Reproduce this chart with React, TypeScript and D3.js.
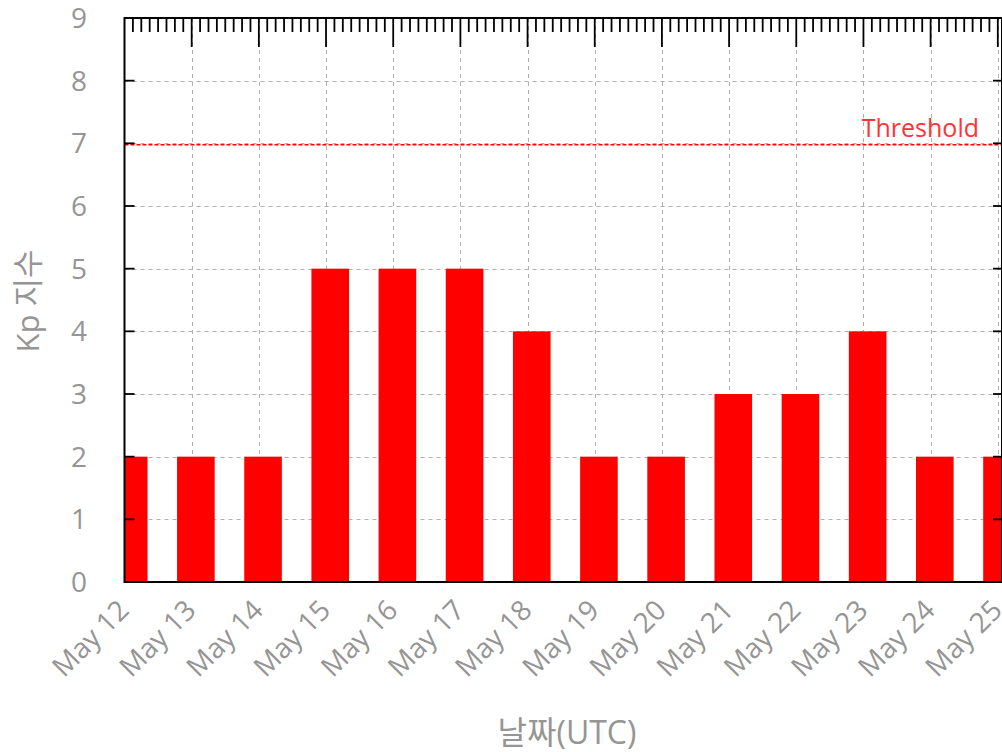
import React from "react";
import * as d3 from "d3";

const dayLabels = ["May 12", "May 13", "May 14", "May 15", "May 16", "May 17", "May 18", "May 19", "May 20", "May 21", "May 22", "May 23", "May 24", "May 25"];
const kpValues = [2, 2, 2, 5, 5, 5, 4, 2, 2, 3, 3, 4, 2, 2];
const yTickValues = [0, 1, 2, 3, 4, 5, 6, 7, 8, 9];
const thresholdValue = 7;
const thresholdLabel = "Threshold";
const xTitle = "날짜(UTC)";
const yTitle = "Kp 지수";

const YEAR = 2024;
const dayStart = (i: number) => new Date(Date.UTC(YEAR, 4, 12 + i));
const barTime = (i: number) => new Date(Date.UTC(YEAR, 4, 12 + i, 1, 30));

const W = 1002;
const H = 752;
const L = 124.5;
const R = 1002;
const T = 18;
const B = 582;

const FONT = "'Open Sans', 'Noto Sans CJK KR', sans-serif";
const GRAY = "#959595";

export default function App() {
  const x = d3
    .scaleUtc()
    .domain([dayStart(0), barTime(dayLabels.length - 1)])
    .range([L, R]);
  const y = d3.scaleLinear().domain([0, 9]).range([B, T]);

  const dayMs = 86400000;
  const barW = x(new Date(dayStart(0).getTime() + 0.56 * dayMs)) - x(dayStart(0));

  const majorTicks = dayLabels.map((_, i) => dayStart(i));
  const minorTicks = d3.utcHour
    .every(3)!
    .range(dayStart(0), barTime(dayLabels.length - 1))
    .filter((d) => d.getUTCHours() !== 0);

  return (
    <svg
      width={W}
      height={H}
      style={{ position: "absolute", left: 0, top: 0, background: "#fff" }}
      fontFamily={FONT}
    >
      <defs>
        <clipPath id="plot">
          <rect x={L} y={T} width={R - L} height={B - T} />
        </clipPath>
      </defs>
      <rect x={0} y={0} width={W} height={H} fill="#fff" />

      {/* grid */}
      <g stroke="#b0b0b0" strokeWidth={1} strokeDasharray="4,4">
        {yTickValues.slice(1, -1).map((v) => (
          <line key={"gy" + v} x1={L} x2={R} y1={Math.round(y(v)) + 0.5} y2={Math.round(y(v)) + 0.5} />
        ))}
        {majorTicks.slice(1).map((d, i) => (
          <line key={"gx" + i} x1={Math.round(x(d)) + 0.5} x2={Math.round(x(d)) + 0.5} y1={T} y2={B} />
        ))}
      </g>

      {/* bars */}
      <g clipPath="url(#plot)">
        {kpValues.map((v, i) => (
          <rect
            key={"b" + i}
            x={x(barTime(i)) - barW / 2}
            y={y(v)}
            width={barW}
            height={B - y(v)}
            fill="#ff0000"
          />
        ))}
      </g>

      {/* threshold */}
      <line
        x1={L}
        x2={R}
        y1={y(thresholdValue) + 1.5}
        y2={y(thresholdValue) + 1.5}
        stroke="#ff0000"
        strokeWidth={1.5}
        strokeDasharray="4,2"
      />
      <text x={979} y={y(thresholdValue) - 6} textAnchor="end" fill="#ff3333" fontSize={25}>
        {thresholdLabel}
      </text>

      {/* ticks */}
      <g stroke="#000" strokeWidth={1.8}>
        {minorTicks.map((d, i) => (
          <line key={"mt" + i} x1={x(d)} x2={x(d)} y1={T} y2={T + 14} />
        ))}
        {majorTicks.slice(1).map((d, i) => (
          <line key={"Mt" + i} x1={x(d)} x2={x(d)} y1={T} y2={T + 29} />
        ))}
        {yTickValues.slice(1, -1).map((v) => (
          <g key={"yt" + v}>
            <line x1={L} x2={L + 10} y1={y(v)} y2={y(v)} />
            <line x1={R - 9} x2={R} y1={y(v)} y2={y(v)} />
          </g>
        ))}
      </g>

      {/* border */}
      <rect x={L} y={T} width={R - L} height={B - T} fill="none" stroke="#000" strokeWidth={2} />

      {/* y labels */}
      <g fill={GRAY} fontSize={28} textAnchor="end">
        {yTickValues.map((v) => (
          <text key={"yl" + v} x={87} y={y(v) + 10}>
            {v}
          </text>
        ))}
      </g>

      {/* x labels */}
      <g fill={GRAY} fontSize={28} textAnchor="end">
        {dayLabels.map((lab, i) => {
          const px = x(dayStart(i)) + 6;
          const py = 612;
          return (
            <text key={"xl" + i} transform={`translate(${px},${py}) rotate(-45)`}>
              {lab}
            </text>
          );
        })}
      </g>

      {/* titles */}
      <text x={567} y={744} textAnchor="middle" fill={GRAY} fontSize={32}>
        {xTitle}
      </text>
      <text
        transform={`translate(39,301) rotate(-90)`}
        textAnchor="middle"
        fill={GRAY}
        fontSize={31}
      >
        {yTitle}
      </text>
    </svg>
  );
}
